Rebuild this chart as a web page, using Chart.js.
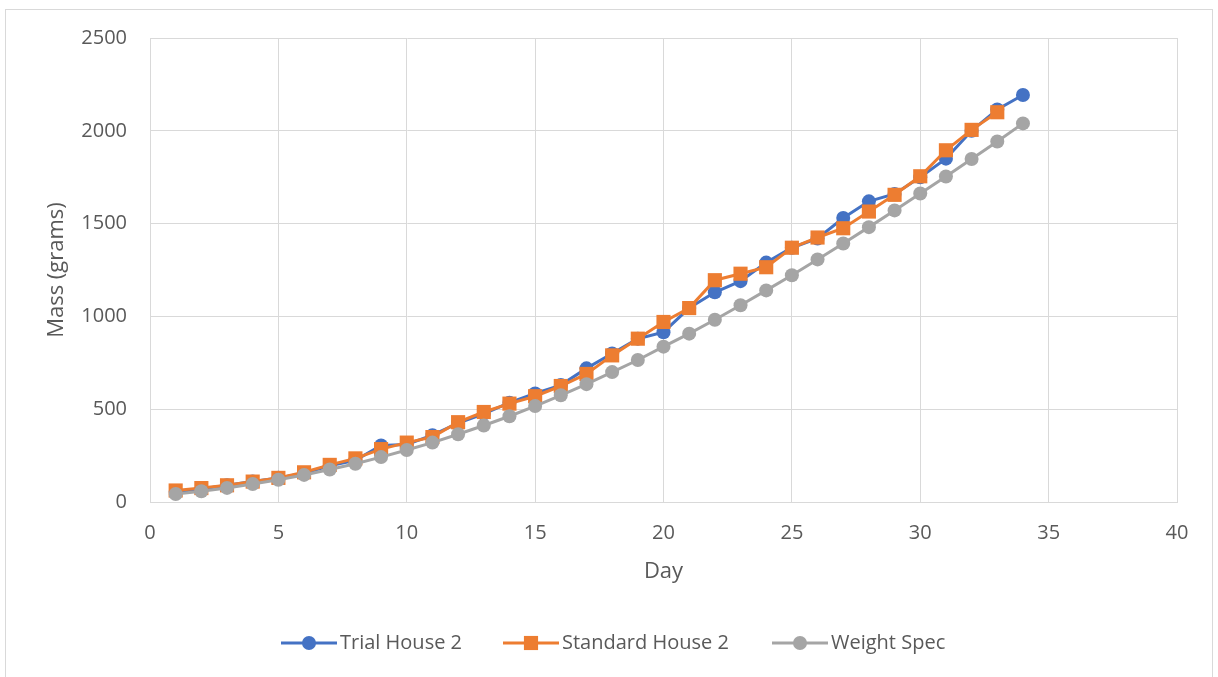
<!DOCTYPE html>
<html>
<head>
<meta charset="utf-8">
<script src="https://cdn.jsdelivr.net/npm/chart.js@4/dist/chart.umd.min.js"></script>
<style>
  html, body { margin: 0; padding: 0; background: #fff; }
  #wrap { width: 1218px; height: 677px; position: relative; }
</style>
</head>
<body>
<div id="wrap"><canvas id="massChart"></canvas></div>
<script>
// Daily bird mass, grams
const days = [1, 2, 3, 4, 5, 6, 7, 8, 9, 10, 11, 12, 13, 14, 15, 16, 17,
  18, 19, 20, 21, 22, 23, 24, 25, 26, 27, 28, 29, 30, 31, 32, 33, 34];
const trialHouse2 = [55, 70, 90, 110, 130, 155, 195, 225, 305, 310, 360, 425,
  475, 535, 585, 630, 720, 800, 880, 915, 1045, 1130, 1190, 1290, 1370, 1420,
  1530, 1620, 1660, 1750, 1850, 2000, 2115, 2193];
const standardHouse2 = [62, 75, 90, 110, 130, 160, 200, 235, 285, 320, 350,
  430, 485, 530, 570, 625, 690, 790, 880, 970, 1045, 1195, 1230, 1265, 1370,
  1425, 1475, 1565, 1655, 1755, 1895, 2005, 2100];
const weightSpec = [43, 58, 76, 97, 120, 146, 175, 206, 242, 280, 320, 365,
  412, 462, 517, 575, 635, 700, 765, 837, 907, 982, 1060, 1140, 1222, 1307,
  1393, 1481, 1571, 1662, 1754, 1848, 1942, 2040];
const xTicks = [0, 5, 10, 15, 20, 25, 30, 35, 40];
const yTicks = [0, 500, 1000, 1500, 2000, 2500];

const FONT = "'Open Sans', 'Noto Sans', sans-serif";
const TEXT = '#595959';
const GRID = '#d9d9d9';

const points = (ys) => ys.map((y, i) => ({ x: days[i], y }));

function series(label, values, color, style, radius, order) {
  return {
    label,
    data: points(values),
    showLine: true,
    borderColor: color,
    backgroundColor: color,
    borderWidth: 3,
    pointStyle: style,
    pointRadius: radius,
    pointHoverRadius: radius,
    pointBorderWidth: 0,
    order,
  };
}

// outer frame + legend with line-and-marker keys
const frameAndLegend = {
  id: 'frameAndLegend',
  afterDraw(chart) {
    const ctx = chart.ctx;
    ctx.save();
    ctx.strokeStyle = GRID;
    ctx.lineWidth = 1;
    ctx.strokeRect(5.5, 9.5, 1207, 700);

    const sets = chart.data.datasets;
    const y = 643;
    const starts = [281, 503, 772];
    ctx.font = `20px ${FONT}`;
    ctx.textBaseline = 'middle';
    sets.forEach((ds, i) => {
      const x0 = starts[i];
      ctx.strokeStyle = ds.borderColor;
      ctx.lineWidth = 3;
      ctx.beginPath();
      ctx.moveTo(x0, y);
      ctx.lineTo(x0 + 56, y);
      ctx.stroke();
      ctx.fillStyle = ds.borderColor;
      Chart.helpers.drawPoint(ctx, {
        pointStyle: ds.pointStyle,
        radius: ds.pointStyle === 'rect' ? 10 : 7,
        borderWidth: 0,
      }, x0 + 28, y);
      ctx.fillStyle = TEXT;
      ctx.fillText(ds.label, x0 + 59, y);
    });
    ctx.restore();
  },
};

new Chart(document.getElementById('massChart'), {
  type: 'scatter',
  data: {
    datasets: [
      series('Trial House 2', trialHouse2, '#4472c4', 'circle', 7, 3),
      series('Standard House 2', standardHouse2, '#ed7d31', 'rect', 10, 2),
      series('Weight Spec', weightSpec, '#a5a5a5', 'circle', 7, 1),
    ],
  },
  options: {
    responsive: true,
    maintainAspectRatio: false,
    animation: false,
    layout: { padding: { top: 38, right: 41, left: 0, bottom: 0 } },
    plugins: {
      legend: { display: false },
      tooltip: { enabled: false },
    },
    scales: {
      x: {
        type: 'linear',
        min: 0,
        max: 40,
        afterBuildTicks: (scale) => { scale.ticks = xTicks.map(v => ({ value: v })); },
        afterFit: (scale) => { scale.height = 175; },
        grid: { color: GRID, lineWidth: 1, drawTicks: false },
        border: { color: GRID },
        ticks: { color: TEXT, font: { family: FONT, size: 20 }, padding: 19, callback: v => String(v) },
        title: {
          display: true,
          text: 'Day',
          color: TEXT,
          font: { family: FONT, size: 22 },
          padding: { top: 0, bottom: 92 },
        },
      },
      y: {
        min: 0,
        max: 2500,
        afterBuildTicks: (scale) => { scale.ticks = yTicks.map(v => ({ value: v })); },
        afterFit: (scale) => { scale.width = 150; },
        grid: { color: GRID, lineWidth: 1, drawTicks: false },
        border: { color: GRID },
        ticks: { color: TEXT, font: { family: FONT, size: 20 }, padding: 23, callback: v => String(v) },
        title: {
          display: true,
          text: 'Mass (grams)',
          color: TEXT,
          font: { family: FONT, size: 22 },
          padding: { top: 44, bottom: 0 },
        },
      },
    },
  },
  plugins: [frameAndLegend],
});
</script>
</body>
</html>
